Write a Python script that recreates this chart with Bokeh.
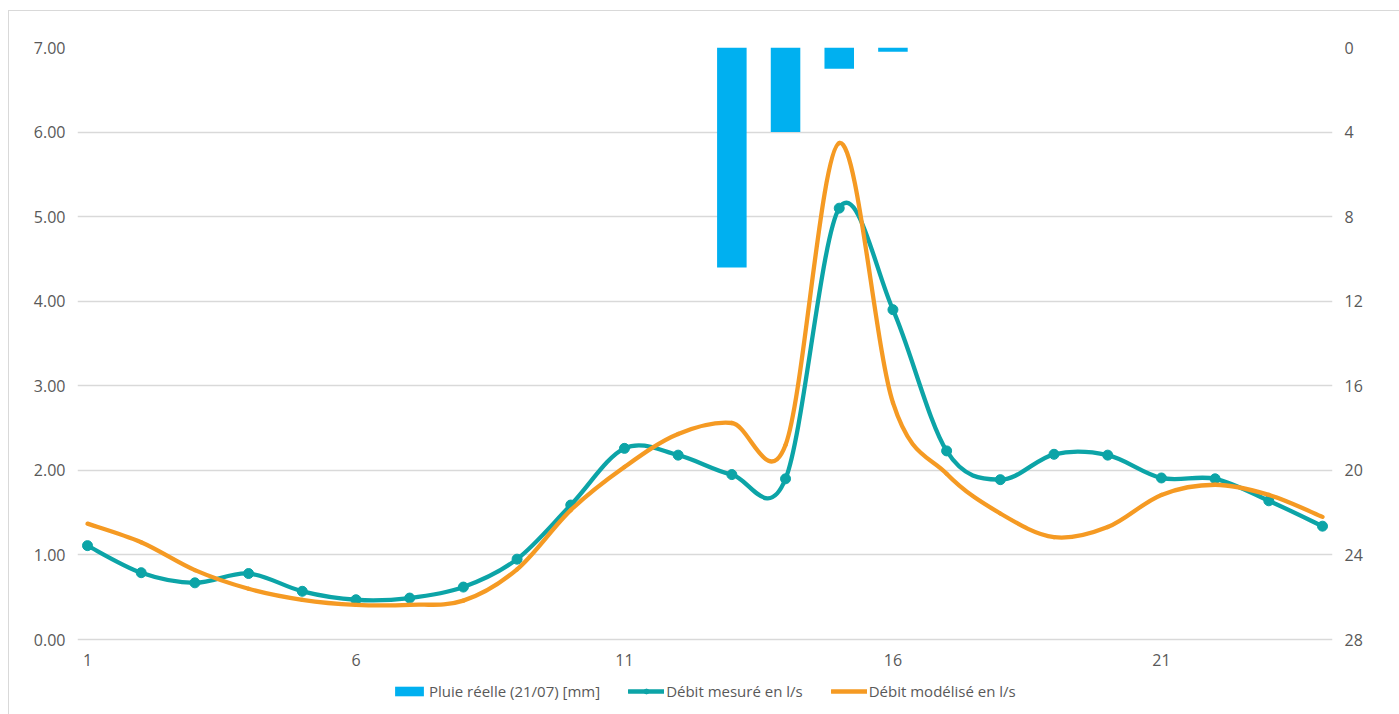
import numpy as np
from bokeh.plotting import figure
from bokeh.models import (Range1d, LinearAxis, FixedTicker, Legend, LegendItem,
                          ColumnDataSource, NumeralTickFormatter)
from bokeh.embed import file_html
from bokeh.resources import INLINE

# Hourly series for 21/07
hours = list(range(1, 25))
rain_mm = [0, 0, 0, 0, 0, 0, 0, 0, 0, 0, 0, 0,
           10.4, 4.0, 1.0, 0.2, 0, 0, 0, 0, 0, 0, 0, 0]
flow_measured = [1.11, 0.79, 0.67, 0.78, 0.57, 0.47, 0.49, 0.62, 0.95, 1.59, 2.26, 2.18,
                 1.95, 1.90, 5.10, 3.90, 2.23, 1.89, 2.19, 2.18, 1.91, 1.90, 1.64, 1.34]
flow_model = [1.37, 1.15, 0.82, 0.60, 0.47, 0.41, 0.41, 0.46, 0.83, 1.53, 2.04, 2.43,
              2.56, 2.30, 5.87, 2.80, 1.96, 1.49, 1.21, 1.33, 1.71, 1.83, 1.71, 1.45]

left_ticks = [0, 1, 2, 3, 4, 5, 6, 7]
right_ticks = [0, 4, 8, 12, 16, 20, 24, 28]
x_ticks = [1, 6, 11, 16, 21]

FONT = "Open Sans"
TEXT = "#595959"
GRID = "#D9D9D9"
BLUE = "#00B0F0"
TEAL = "#0CA4A7"
ORANGE = "#F59A23"

# plot area: 1235 x 592 px for hours 1..24 and the 0..7 scale, with a little
# room at the sides for the end markers and 75 px below zero for the
# category labels and the legend
SCALE_W, SCALE_PX = 1235, 592
SIDE_PX, ROOM_PX = 10, 75
hour_pad = 23 * SIDE_PX / SCALE_W
flow_pad = 7 * ROOM_PX / SCALE_PX
rain_pad = 28 * ROOM_PX / SCALE_PX


def smooth_segments(xs, ys):
    """Cubic Bezier segments (Catmull-Rom control points) through every point."""
    x = np.asarray(xs, float)
    y = np.asarray(ys, float)
    xp = np.concatenate([[x[0]], x, [x[-1]]])
    yp = np.concatenate([[y[0]], y, [y[-1]]])
    n = len(x)
    return dict(
        x0=x[:-1], y0=y[:-1], x1=x[1:], y1=y[1:],
        cx0=x[:-1] + (xp[2:n + 1] - xp[0:n - 1]) / 6.0,
        cy0=y[:-1] + (yp[2:n + 1] - yp[0:n - 1]) / 6.0,
        cx1=x[1:] - (xp[3:n + 2] - xp[1:n]) / 6.0,
        cy1=y[1:] - (yp[3:n + 2] - yp[1:n]) / 6.0,
    )


p = figure(frame_width=SCALE_W + 2 * SIDE_PX, frame_height=SCALE_PX + ROOM_PX,
           x_range=Range1d(1 - hour_pad, 24 + hour_pad),
           y_range=Range1d(-flow_pad, 7),
           output_backend="svg", toolbar_location=None,
           min_border_left=68, min_border_right=67,
           min_border_top=36, min_border_bottom=0)
p.margin = (10, 0, 0, 8)
p.styles = {"border-left": "1px solid #D9D9D9", "border-top": "1px solid #D9D9D9"}
p.outline_line_color = None
p.background_fill_color = "white"
p.border_fill_color = "white"

p.extra_y_ranges = {"rain": Range1d(28 + rain_pad, 0)}

# grid
p.xgrid.visible = False
p.ygrid.ticker = FixedTicker(ticks=left_ticks)
p.ygrid.bounds = (1, 24)
p.ygrid.grid_line_color = GRID
p.ygrid.grid_line_width = 1.3

# axes
for ax in (p.xaxis[0], p.yaxis[0]):
    ax.axis_line_color = None
    ax.major_tick_line_color = None
    ax.minor_tick_line_color = None
    ax.major_label_text_color = TEXT
    ax.major_label_text_font = FONT
    ax.major_label_text_font_size = "16px"

# category axis sits on the zero line
p.xaxis[0].fixed_location = 0
p.xaxis[0].ticker = FixedTicker(ticks=x_ticks)
p.xaxis[0].major_label_standoff = 8
p.yaxis[0].ticker = FixedTicker(ticks=left_ticks)
p.yaxis[0].formatter = NumeralTickFormatter(format="0.00")
p.yaxis[0].major_label_standoff = 6

right = LinearAxis(y_range_name="rain", ticker=FixedTicker(ticks=right_ticks))
right.axis_line_color = None
right.major_tick_line_color = None
right.minor_tick_line_color = None
right.major_label_text_color = TEXT
right.major_label_text_font = FONT
right.major_label_text_font_size = "16px"
right.major_label_standoff = 6
p.add_layout(right, "right")

# rain bars hanging from the top of the secondary (inverted) axis
bar_src = ColumnDataSource(dict(x=hours, top=[0] * len(hours), bottom=rain_mm))
bars = p.vbar(x="x", width=0.55, top="top", bottom="bottom", source=bar_src,
              y_range_name="rain", fill_color=BLUE, line_color=None)

# smoothed flow curves
meas_seg = ColumnDataSource(smooth_segments(hours, flow_measured))
model_seg = ColumnDataSource(smooth_segments(hours, flow_model))

meas_line = p.bezier(x0="x0", y0="y0", x1="x1", y1="y1", cx0="cx0", cy0="cy0",
                     cx1="cx1", cy1="cy1", source=meas_seg,
                     line_color=TEAL, line_width=4.3, line_cap="round")
meas_pts = p.scatter(hours, flow_measured, size=10, fill_color=TEAL, line_color=TEAL)
model_line = p.bezier(x0="x0", y0="y0", x1="x1", y1="y1", cx0="cx0", cy0="cy0",
                      cx1="cx1", cy1="cy1", source=model_seg,
                      line_color=ORANGE, line_width=4.3, line_cap="round")

legend = Legend(items=[
    LegendItem(label="Pluie réelle (21/07) [mm]", renderers=[bars]),
    LegendItem(label="Débit mesuré en l/s", renderers=[meas_line, meas_pts]),
    LegendItem(label="Débit modélisé en l/s", renderers=[model_line]),
], orientation="horizontal", location=(314, 13))
legend.border_line_color = None
legend.background_fill_alpha = 0
legend.label_text_font = FONT
legend.label_text_font_size = "15px"
legend.label_text_color = TEXT
legend.glyph_width = 36
legend.glyph_height = 12
legend.label_standoff = 2
legend.spacing = 28
legend.padding = 0
legend.margin = 0
p.add_layout(legend, "center")

open("out.html", "w").write(file_html(p, INLINE))
